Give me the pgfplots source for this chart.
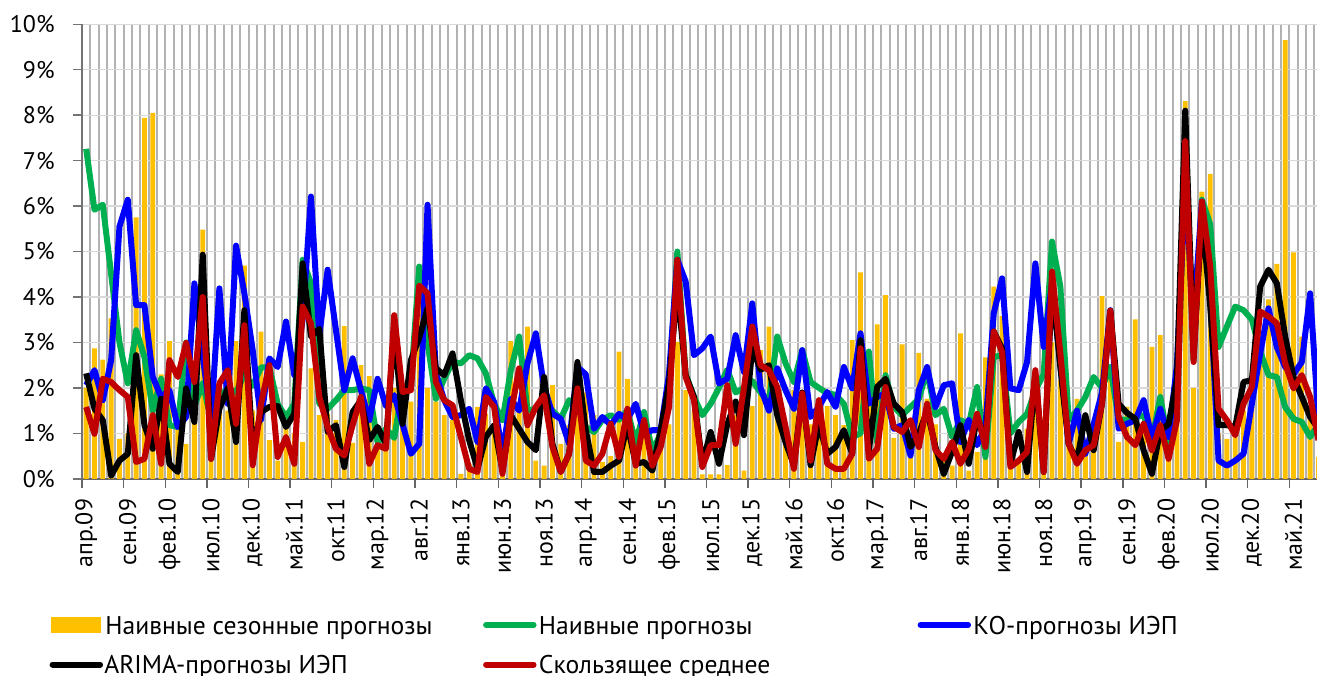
\documentclass[border=0pt]{standalone}
\usepackage{fontspec}
\setmainfont{PT Sans}
\usepackage{pgfplots}
\pgfplotsset{compat=1.18}
\usepackage{pgfplotstable}
\definecolor{cOr}{HTML}{FFC000}
\definecolor{cG}{HTML}{00B050}
\definecolor{cB}{HTML}{0000FF}
\definecolor{cR}{HTML}{C00000}
\definecolor{cK}{HTML}{000000}
\pgfplotstableread{
i o g b k r
0 2.0 7.26 2.06 2.32 1.58
1 2.87 5.92 2.39 1.54 0.99
2 2.62 6.03 1.73 1.29 2.2
3 3.53 4.5 2.61 0.07 2.13
4 0.88 3.0 5.55 0.4 1.95
5 1.0 2.1 6.14 0.55 1.8
6 5.75 3.27 3.82 2.72 0.37
7 7.94 2.68 3.82 1.18 0.44
8 8.05 1.5 2.24 0.66 1.4
9 2.3 2.2 1.8 1.76 0.33
10 3.03 1.18 1.95 0.33 2.61
11 1.1 1.14 1.14 0.15 2.24
12 0.77 3.0 1.36 1.99 2.99
13 2.1 1.6 4.3 1.25 2.13
14 5.48 2.1 2.7 4.93 4.0
15 1.5 1.3 1.29 0.44 0.44
16 2.0 1.8 4.19 1.54 2.1
17 1.5 2.0 1.65 1.99 2.39
18 3.03 1.9 5.13 0.81 1.21
19 4.69 2.3 4.08 3.71 3.38
20 1.5 2.05 2.83 0.63 0.3
21 3.24 2.45 1.3 1.47 1.65
22 0.85 2.46 2.65 1.58 2.5
23 0.4 1.65 2.46 1.6 0.48
24 1.2 1.36 3.46 1.14 0.92
25 1.0 1.65 2.28 1.43 0.33
26 0.81 4.82 3.5 4.74 3.79
27 2.43 4.3 6.21 3.13 3.42
28 1.4 1.65 3.16 3.3 1.8
29 1.43 1.54 4.6 1.03 1.14
30 1.29 1.73 3.27 1.18 0.66
31 3.36 1.95 1.95 0.26 0.51
32 0.79 1.95 2.65 1.47 1.18
33 2.5 1.99 1.95 1.73 1.8
34 2.26 1.95 1.29 0.85 0.33
35 1.1 0.8 2.2 1.14 0.74
36 0.7 1.1 1.6 0.77 0.66
37 2.0 0.9 1.84 3.3 3.6
38 1.4 2.0 1.2 1.21 1.91
39 1.7 2.1 0.55 2.61 1.95
40 4.55 4.67 0.77 3.1 4.25
41 2.0 3.0 6.03 3.75 4.08
42 1.7 1.76 2.32 2.43 2.13
43 1.4 2.2 1.73 2.28 1.73
44 1.29 2.57 1.36 2.76 1.62
45 0.11 2.54 1.4 1.73 0.92
46 0.33 2.72 1.54 0.85 0.22
47 1.58 2.65 0.81 0.22 0.15
48 1.43 2.32 1.99 0.92 1.8
49 1.0 1.65 1.69 1.18 1.58
50 0.99 1.29 0.55 0.18 0.11
51 3.03 2.39 1.76 1.4 1.43
52 1.5 3.13 1.5 1.1 2.43
53 3.35 1.5 2.54 0.81 1.18
54 0.4 1.54 3.2 0.63 1.58
55 0.29 1.73 2.02 2.24 1.84
56 2.06 1.5 1.43 0.77 0.7
57 0.77 1.32 1.32 0.15 0.15
58 1.18 1.73 0.77 0.55 0.55
59 1.6 1.65 2.46 2.57 1.99
60 1.9 1.14 2.3 1.07 0.4
61 1.4 1.03 1.1 0.15 0.29
62 0.37 1.3 1.36 0.15 0.55
63 0.5 1.4 1.18 0.29 1.21
64 2.8 1.3 1.43 0.4 0.48
65 2.2 1.5 1.3 1.2 1.54
66 0.8 0.8 1.65 0.33 0.29
67 1.0 1.47 1.0 0.37 1.29
68 0.6 0.6 1.07 0.18 0.29
69 0.7 1.0 1.07 1.07 0.7
70 1.2 2.0 2.3 2.1 1.58
71 3.01 5.0 4.82 4.23 4.82
72 1.95 2.3 4.34 2.28 2.24
73 1.5 1.8 2.72 1.8 1.73
74 0.1 1.4 2.87 0.33 0.26
75 0.1 1.65 3.13 1.03 0.74
76 0.1 2.0 2.1 0.33 0.74
77 0.3 2.4 2.2 1.2 2.06
78 1.4 1.9 3.16 1.7 0.77
79 0.18 2.0 2.35 0.96 2.0
80 1.6 2.15 3.86 2.87 3.35
81 2.83 1.9 2.0 2.4 2.5
82 3.35 1.7 1.5 2.5 2.39
83 1.6 3.13 2.43 1.4 2.02
84 0.9 2.54 1.95 0.8 1.14
85 1.95 2.13 1.54 0.3 0.22
86 1.5 2.83 2.83 1.9 1.88
87 1.2 2.13 1.36 0.3 0.4
88 1.5 2.0 1.58 1.2 1.73
89 1.6 1.88 1.91 0.55 0.33
90 1.4 1.85 1.58 0.7 0.22
91 1.18 1.65 2.46 1.07 0.22
92 3.05 0.92 1.99 0.55 0.55
93 4.54 1.0 3.2 3.05 2.87
94 2.37 2.8 1.65 0.63 0.44
95 3.4 0.8 1.8 2.02 0.66
96 4.04 2.28 1.88 2.2 2.02
97 0.9 1.58 1.1 1.65 1.14
98 2.96 1.4 1.18 1.47 1.03
99 0.5 1.58 0.51 0.7 1.29
100 2.77 1.76 1.95 0.99 0.7
101 1.76 2.39 2.46 1.5 1.65
102 1.2 1.4 1.58 0.7 0.63
103 0.4 1.54 2.06 0.11 0.44
104 0.29 0.92 2.1 0.6 0.81
105 3.2 1.29 0.81 1.18 0.33
106 0.18 1.2 1.29 0.33 0.66
107 0.59 2.02 0.74 1.36 1.43
108 2.67 0.48 1.14 0.8 0.7
109 4.23 2.68 3.64 3.24 3.24
110 3.58 2.72 4.41 2.87 2.79
111 0.4 1.0 1.99 0.33 0.26
112 0.4 1.25 1.95 1.03 0.4
113 1.1 1.43 2.57 0.15 0.59
114 1.5 1.95 4.74 2.3 2.39
115 1.2 2.3 2.9 0.15 0.15
116 3.0 5.22 4.3 4.3 4.56
117 2.17 4.23 2.5 2.46 2.76
118 1.0 1.29 0.77 0.77 0.77
119 1.76 1.5 1.5 0.4 0.33
120 0.9 1.8 0.55 1.4 0.63
121 1.1 2.24 1.2 0.63 0.74
122 4.02 2.0 1.9 1.65 1.65
123 2.5 2.46 3.71 3.7 3.7
124 0.81 1.3 1.1 1.65 1.36
125 1.58 1.3 1.21 1.45 0.92
126 3.51 1.35 1.29 1.32 0.74
127 1.0 1.4 1.73 0.63 1.21
128 2.9 0.85 0.88 0.11 0.63
129 3.16 1.8 1.54 1.07 1.18
130 1.0 0.77 0.92 1.2 0.44
131 1.5 1.3 2.5 2.2 1.29
132 8.31 7.4 6.5 8.1 7.43
133 2.0 2.6 3.5 2.76 2.57
134 6.32 6.14 6.1 5.8 6.1
135 6.71 5.6 4.0 3.8 4.67
136 1.0 2.9 0.4 1.18 1.54
137 0.88 3.35 0.29 1.18 1.29
138 1.0 3.79 0.4 1.14 0.96
139 1.5 3.71 0.55 2.13 1.65
140 1.8 3.5 1.65 2.17 2.02
141 2.5 2.8 2.76 4.23 3.68
142 3.95 2.28 3.75 4.6 3.57
143 4.73 2.24 2.9 4.3 3.42
144 9.65 1.58 2.46 3.13 2.54
145 4.98 1.32 2.3 2.24 1.99
146 3.13 1.25 2.57 1.8 2.28
147 1.5 0.92 4.08 1.36 1.8
148 0.48 1.2 1.3 1.1 0.85
}\data
\pgfplotsset{
  lineleg/.style={legend image code/.code={%
    \path[draw=none,fill=none] (0pt,0pt) rectangle (26.75pt,9pt);
    \draw[line width=3pt,line cap=round,#1] (1.5pt,4.5pt) -- (25.25pt,4.5pt);}}
}
\begin{document}
\begin{tikzpicture}
\begin{axis}[
  at={(0,0)}, anchor=south west, scale only axis,
  width=617.4pt, height=227.25pt,
  xmin=-0.5, xmax=147.8, ymin=0, ymax=10,
  clip=false,
  axis x line*=bottom, axis y line*=left,
  x axis line style={draw=black!60, line width=0.7pt},
  y axis line style={draw=black!55, line width=0.7pt},
  tick align=outside,
  major tick length=4.5pt,
  minor tick length=0pt,
  ytick={0,1,...,10},
  yticklabels={0\%,1\%,2\%,3\%,4\%,5\%,6\%,7\%,8\%,9\%,10\%},
  ytick style={draw=black!55, line width=0.7pt},
  ymajorgrids,
  y grid style={draw=black!15, line width=0.65pt},
  xtick={-0.5,4.5,...,144.5}, xticklabels={},
  xtick style={draw=black!60, line width=0.7pt},
  minor xtick={-0.5,0.5,...,147.5},
  xminorgrids,
  minor x grid style={draw=black!30, line width=1pt},
  extra x ticks={0,5,...,145},
  extra x tick labels={апр.09,сен.09,фев.10,июл.10,дек.10,май.11,окт.11,мар.12,авг.12,янв.13,июн.13,ноя.13,апр.14,сен.14,фев.15,июл.15,дек.15,май.16,окт.16,мар.17,авг.17,янв.18,июн.18,ноя.18,апр.19,сен.19,фев.20,июл.20,дек.20,май.21},
  extra x tick style={grid=none, major tick length=0pt},
  ticklabel style={font=\fontsize{12}{14}\selectfont, inner sep=0pt},
  xticklabel style={rotate=90, anchor=east},
  yticklabel style={anchor=east},
  xticklabel shift=9.85pt,
  yticklabel shift=9pt,
  legend columns=3,
  legend style={at={(-0.02624,-0.2997)}, anchor=north west, draw=none, fill=none,
    inner sep=0pt, outer sep=0pt, column sep=0pt, row sep=7.25pt,
    cells={anchor=base west},
    nodes={inner sep=0pt, text height=9.5pt, text depth=3pt, font=\fontsize{12.8}{15}\selectfont}},
]
\addplot[ybar, bar width=0.58, bar shift=0pt, fill=cOr, draw=none,
  legend image code/.code={\path[draw=none,fill=none] (0pt,0pt) rectangle (26.75pt,9pt); \fill[cOr] (0.85pt,0.5pt) rectangle (25.7pt,8.5pt);}]
  table[x=i,y=o]{\data};
\addlegendentry{\makebox[190pt][l]{\hspace*{1.2pt}Наивные сезонные прогнозы}}
\addplot[cG, line width=3pt, line join=round, mark=none, lineleg={cG}] table[x=i,y=g]{\data};
\addlegendentry{\makebox[190.5pt][l]{\hspace*{1.2pt}Наивные прогнозы}}
\addplot[cB, line width=3pt, line join=round, mark=none, lineleg={cB}] table[x=i,y=b]{\data};
\addlegendentry{\hspace*{1.2pt}КО-прогнозы ИЭП}
\addplot[cK, line width=3pt, line join=round, mark=none, lineleg={cK}] table[x=i,y=k]{\data};
\addlegendentry{\makebox[190pt][l]{\hspace*{0.6pt}ARIMA-прогнозы ИЭП}}
\addplot[cR, line width=3pt, line join=round, mark=none, lineleg={cR}] table[x=i,y=r]{\data};
\addlegendentry{\makebox[190.5pt][l]{\hspace*{1.2pt}Скользящее среднее}}
\end{axis}
\pgfresetboundingbox
\useasboundingbox (-41pt,-98.1pt) rectangle (617.5pt,239.4pt);
\end{tikzpicture}
\end{document}
